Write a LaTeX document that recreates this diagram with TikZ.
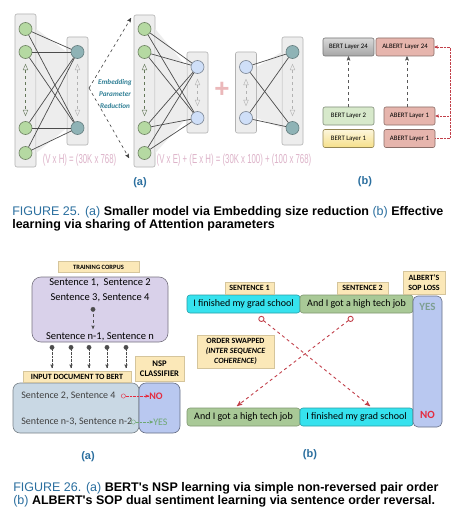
\documentclass[tikz,border=0pt]{standalone}
\usepackage{fontspec}
\setmainfont{Carlito}
\newfontfamily\capfont{Liberation Sans}
\newfontfamily\eqfont[FakeStretch=0.6]{Liberation Sans}
\usetikzlibrary{arrows,positioning}

\definecolor{capblue}{HTML}{2B6F9F}
\definecolor{colfill}{HTML}{EDEDED}
\definecolor{ingreen}{HTML}{B5D9A2}
\definecolor{hidteal}{HTML}{8FB3B6}
\definecolor{embblue}{HTML}{CFDFF8}
\definecolor{eqpink}{HTML}{DDB3C9}
\definecolor{plusred}{HTML}{EBB8BA}
\definecolor{embtxt}{HTML}{2F7F95}
\definecolor{tagyellow}{HTML}{FBE8B8}
\definecolor{layerpink}{HTML}{E6B5AD}
\definecolor{layergreen}{HTML}{D7E9CB}
\definecolor{layeryellow}{HTML}{F6E08A}
\definecolor{corpusfill}{HTML}{D9D1EA}
\definecolor{inputfill}{HTML}{C9D8E4}
\definecolor{lossblue}{HTML}{B9C8F0}
\definecolor{sentcyan}{HTML}{36E2EE}
\definecolor{sentsage}{HTML}{A9C997}
\definecolor{swapred}{HTML}{C2404A}
\definecolor{nored}{HTML}{E42C40}
\definecolor{yesgreen}{HTML}{6FA872}
\definecolor{yesgray}{HTML}{7E9F92}

\begin{document}
\begin{tikzpicture}[x=1pt,y=-1pt,>=stealth',semithick]
\tikzstyle{column} = [rectangle,rounded corners=2pt,draw=black!30,fill=colfill,minimum width=21pt,inner sep=0pt]
\tikzstyle{innode} = [circle,draw=ingreen!60!black,fill=ingreen,minimum size=13pt,inner sep=0pt]
\tikzstyle{hidnode} = [circle,draw=hidteal!70!black,fill=hidteal,minimum size=13pt,inner sep=0pt]
\tikzstyle{embnode} = [circle,draw=embblue!60!black,fill=embblue,minimum size=13pt,inner sep=0pt]
\tikzstyle{netline} = [draw=black!70,line width=0.7pt]
\tikzstyle{updown} = [dashed,thin,open triangle 45-open triangle 45,shorten >=5pt,shorten <=5pt]
\tikzstyle{eqtext} = [text=eqpink,font=\eqfont\fontsize{13}{13}\selectfont,inner sep=0pt]
\tikzstyle{sublabel} = [text=capblue,font=\capfont\bfseries\fontsize{11}{12}\selectfont]
\tikzstyle{caption} = [anchor=north west,align=left,inner sep=0pt,font=\capfont\bfseries\fontsize{12.5}{13}\selectfont]
\tikzstyle{layerbox} = [rectangle,rounded corners=2pt,minimum height=18pt,inner sep=1pt,font=\fontsize{6.8}{8}\selectfont]
\tikzstyle{tagbox} = [rectangle,fill=tagyellow,draw=tagyellow!85!black,inner sep=0.5pt,align=center,font=\bfseries\fontsize{8}{10}\selectfont]
\tikzstyle{sentbox} = [rectangle,rounded corners=3pt,minimum width=113pt,minimum height=18pt,inner sep=0pt,font=\fontsize{10}{12}\selectfont]
\tikzstyle{plaintext} = [inner sep=0pt,font=\fontsize{10.5}{12}\selectfont]

\useasboundingbox (0,0) rectangle (474,516);
\fill[white] (0,0) rectangle (474,516);

% ---- Figure 25 (a)
\node[column,minimum height=153pt] (colIn) at (25.5,90.5) {};
\node[column,minimum height=108pt] (colHid) at (77.5,91) {};
\node[column,minimum height=152pt] (colInR) at (144.5,91) {};
\node[column,minimum height=81pt] (colEmb) at (197.5,92.5) {};
\node[column,minimum height=81pt] (colEmbR) at (246,92.5) {};
\node[column,minimum height=108pt] (colHidR) at (292.5,91) {};

\foreach \n/\y in {A/29,B/52,C/128,D/153} {
  \node[innode] (in\n) at (25.5,\y) {};
  \node[innode] (inR\n) at (144.5,\y) {};
}
\foreach \n/\y in {A/52,B/128} {
  \node[hidnode] (hid\n) at (77.5,\y) {};
  \node[hidnode] (hidR\n) at (292.5,\y) {};
}
\foreach \n/\y in {A/67,B/118} {
  \node[embnode] (emb\n) at (197.5,\y) {};
  \node[embnode] (embR\n) at (246,\y) {};
}

\fill[black!7] (colIn.east |- inA) -- (colHid.west |- hidA) -- (colHid.west |- hidB) -- (colIn.east |- inD) -- cycle;
\fill[black!7] (colInR.east |- inRA) -- (colEmb.west |- embA) -- (colEmb.west |- embB) -- (colInR.east |- inRD) -- cycle;
\fill[black!7] (colEmbR.east |- embRA) -- (colHidR.west |- hidRA) -- (colHidR.west |- hidRB) -- (colEmbR.east |- embRB) -- cycle;

\foreach \a in {A,B,C,D} \foreach \b in {A,B} {
  \draw[netline] (in\a) -- (hid\b);
  \draw[netline] (inR\a) -- (emb\b);
}
\foreach \a in {A,B} \foreach \b in {A,B} \draw[netline] (embR\a) -- (hidR\b);

\draw[updown,draw=ingreen!55!black] (inB) -- (inC);
\draw[updown,draw=ingreen!55!black] (inRB) -- (inRC);
\draw[updown,draw=black!30] (hidA) -- (hidB);
\draw[updown,draw=black!30] (hidRA) -- (hidRB);
\draw[updown,draw=black!30] (embA) -- (embB);
\draw[updown,draw=black!30] (embRA) -- (embRB);

\coordinate (fork) at (89,88);
\coordinate (upTip) at (131,18);
\coordinate (downTip) at (129,158);
\draw[->,dashed,draw=black!75] (fork) -- (upTip);
\draw[->,dashed,draw=black!75] (fork) -- (downTip);
\node[align=center,text=embtxt,font=\bfseries\itshape\fontsize{7.2}{12}\selectfont] (embText) at (115,94) {Embedding\\Parameter\\Reduction};

\node[text=plusred,font=\capfont\bfseries\fontsize{26}{26}\selectfont,inner sep=0pt] (plus) at (222,90) {+};

\node[eqtext] (eqBert) at (79.5,160) {(V x H) = (30K x 768)};
\node[eqtext] (eqAlbert) at (234,160) {(V x E) + (E x H) = (30K x 100) + (100 x 768)};
\node[sublabel] (subA) at (140,183) {(a)};

% ---- Figure 25 (b)
\node[layerbox,minimum width=51pt,draw=black!55,top color=black!15,bottom color=black!35] (bert24) at (348.5,47) {BERT Layer 24};
\node[layerbox,minimum width=58pt,draw=layerpink!60!black,fill=layerpink] (albert24) at (405,47) {ALBERT Layer 24};
\node[layerbox,minimum width=51pt,draw=layergreen!60!black,fill=layergreen] (bert2) at (348.5,116) {BERT Layer 2};
\node[layerbox,minimum width=51pt,draw=layeryellow!60!black,top color=layeryellow!30,bottom color=layeryellow] (bert1) at (348.5,138.5) {BERT Layer 1};
\node[layerbox,minimum width=51pt,draw=layerpink!60!black,fill=layerpink] (abertA) at (409.5,116) {ABERT Layer 1};
\node[layerbox,minimum width=51pt,draw=layerpink!60!black,fill=layerpink] (abertB) at (409.5,138.5) {ABERT Layer 1};

\draw[->,dashed,draw=black!65] (bert2) -- (bert24);
\draw[->,dashed,draw=black!65] (abertA.north -| 407,0) -- (albert24.south -| 407,0);
\coordinate (rail) at (450,47);
\draw[<-,densely dotted,draw=swapred,thin] (albert24.east) -- (rail) -- (rail |- abertB) -- (abertB.east);
\draw[->,densely dotted,draw=swapred,thin] (rail |- abertA) -- (abertA.east);
\node[sublabel] (subB) at (365,182) {(b)};

\node[caption] (cap25) at (12,206) {{\mdseries\color{capblue}FIGURE 25. (a)} Smaller model via Embedding size reduction {\mdseries\color{capblue}(b)} Effective\\learning via sharing of Attention parameters};

% ---- Figure 26 (a)
\node[rectangle,rounded corners=9pt,minimum width=136pt,minimum height=65pt,draw=corpusfill!55!black,fill=corpusfill] (corpus) at (100,309.5) {};
\node[tagbox,minimum width=81pt,minimum height=11pt,font=\bfseries\fontsize{6.5}{7}\selectfont] (trainTag) [above=4pt of corpus,xshift=-1.5pt] {TRAINING CORPUS};
\node[plaintext] (s12) at (100,283) {Sentence 1,\ \ Sentence 2};
\node[plaintext] (s34) at (100,298) {Sentence 3, Sentence 4};
\node[plaintext] (sn) at (100,337) {Sentence n-1, Sentence n};
\coordinate (dotTop) at (93,307);
\coordinate (dotEnd) at (93,329);
\draw[*->,dashed,thin,draw=black!70] (dotTop) -- (dotEnd);

\foreach \x in {52,71,89,107,126} {
  \coordinate (src\x) at (\x,345);
  \coordinate (dst\x) at (\x,368);
  \draw[*->,densely dotted,thin,draw=black!70] (src\x) -- (dst\x);
}

\node[rectangle,rounded corners=7pt,minimum width=126pt,minimum height=50pt,draw=inputfill!60!black,fill=inputfill] (inputDoc) at (76,408) {};
\node[rectangle,rounded corners=7pt,minimum width=41pt,minimum height=50pt,draw=lossblue!55!black,fill=lossblue] (nsp) at (159.5,408) {};
\node[tagbox,minimum width=108pt,minimum height=11pt] (inputTag) [above=0pt of inputDoc,xshift=1pt] {INPUT DOCUMENT TO BERT};
\node[tagbox,minimum width=49pt,minimum height=25pt,font=\bfseries\fontsize{8.6}{10.5}\selectfont] (nspTag) [above=1pt of nsp] {NSP\\CLASSIFIER};

\node[plaintext,anchor=west,text=black!75,font=\fontsize{10}{12}\selectfont] (s24) at (21,396) {Sentence 2, Sentence 4};
\node[plaintext,anchor=west,text=black!75,font=\fontsize{10}{12}\selectfont] (sn32) at (21,422) {Sentence n-3, Sentence n-2};
\node[inner sep=0pt,anchor=west,text=nored,font=\bfseries\fontsize{10}{12}\selectfont] (no) at (149,396) {NO};
\node[inner sep=0pt,anchor=west,text=yesgreen,font=\fontsize{10}{12}\selectfont] (yes) at (153,422) {YES};
\coordinate (noStart) at (121,396);
\coordinate (yesStart) at (131,422);
\draw[o->,densely dotted,draw=nored,thin] (noStart) -- (no.west);
\draw[o->,densely dotted,draw=yesgreen,thin] (yesStart) -- (yes.west);
\node[sublabel] (subA2) at (88,457) {(a)};

% ---- Figure 26 (b)
\node[sentbox,draw=sentcyan!70!black,fill=sentcyan] (topFirst) at (243.5,304) {I finished my grad school};
\node[sentbox,draw=sentsage!75!black,fill=sentsage] (topSecond) at (356.5,304) {And I got a high tech job};
\node[sentbox,draw=sentsage!75!black,fill=sentsage] (botFirst) at (243.5,417) {And I got a high tech job};
\node[sentbox,draw=sentcyan!70!black,fill=sentcyan] (botSecond) at (356.5,417) {I finished my grad school};
\node[rectangle,rounded corners=5pt,minimum width=29pt,minimum height=131pt,draw=lossblue!55!black,fill=lossblue] (sopBox) at (427.5,361.5) {};
\node[inner sep=0pt,text=yesgray,font=\bfseries\fontsize{11}{12}\selectfont] (sopYes) at (427.5,307) {YES};
\node[inner sep=0pt,text=nored,font=\bfseries\fontsize{11}{12}\selectfont] (sopNo) at (427.5,415) {NO};

\node[tagbox,minimum width=49pt,minimum height=12pt] (tagOne) [above=0pt of topFirst,xshift=6pt] {SENTENCE 1};
\node[tagbox,minimum width=51pt,minimum height=12pt] (tagTwo) [above=0pt of topSecond,xshift=6pt] {SENTENCE 2};
\node[tagbox,minimum width=42pt,minimum height=23pt] (tagSop) [above=1pt of sopBox,xshift=-3.5pt] {ALBERT'S\\SOP LOSS};
\node[tagbox,minimum width=77pt,minimum height=33pt] (tagSwap) at (235.5,351.5) {ORDER SWAPPED\\\itshape(INTER SEQUENCE\\\itshape COHERENCE)};

\coordinate (swapA) at (259,317);
\coordinate (swapAend) at (370,406);
\coordinate (swapB) at (353,317);
\coordinate (swapBend) at (237,406);
\draw[o->,dashed,draw=swapred,line width=0.9pt] (swapA) -- (swapAend);
\draw[o->,dashed,draw=swapred,line width=0.9pt] (swapB) -- (swapBend);
\node[sublabel] (subB2) at (310,455) {(b)};

\node[caption] (cap26) at (13,482) {{\mdseries\color{capblue}FIGURE 26. (a)} BERT's NSP learning via simple non-reversed pair order\\{\mdseries\color{capblue}(b)} ALBERT's SOP dual sentiment learning via sentence order reversal.};
\end{tikzpicture}
\end{document}
